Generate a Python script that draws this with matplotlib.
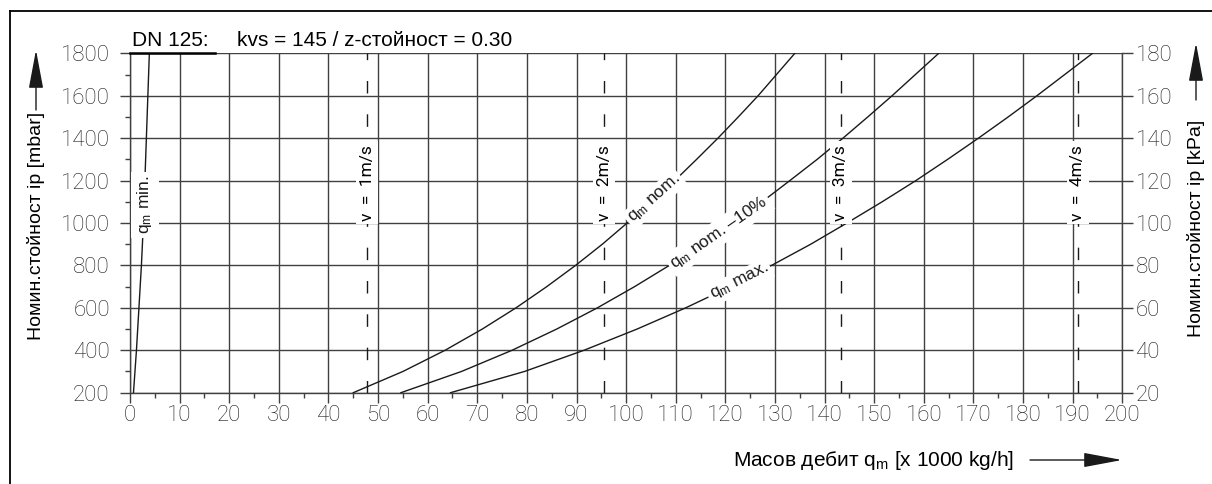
import numpy as np
import matplotlib
matplotlib.use("Agg")
import matplotlib.pyplot as plt
from matplotlib.lines import Line2D
from matplotlib.patches import FancyArrowPatch

plt.rcParams["mathtext.fontset"] = "custom"
plt.rcParams["mathtext.rm"] = "Liberation Sans"
plt.rcParams["mathtext.it"] = "Liberation Sans:italic"

# pressure drop levels (mbar) at which each curve is tabulated
dp_mbar = [200, 300, 400, 500, 600, 700, 800, 900, 1000,
           1100, 1200, 1300, 1400, 1500, 1600, 1700, 1800]

# mass flow (x 1000 kg/h) per curve at the levels above
q_min = [0.7, 1.0, 1.3, 1.55, 1.8, 2.05, 2.3, 2.5, 2.7,
         2.85, 3.0, 3.15, 3.3, 3.45, 3.6, 3.75, 3.9]
q_nom = [45.0, 55.0, 63.5, 71.0, 77.8, 84.0, 89.8, 95.2, 100.2,
         105.0, 109.8, 114.2, 118.5, 122.6, 126.6, 130.3, 134.0]
q_nom_10 = [54.6, 66.8, 77.0, 86.0, 94.2, 101.7, 108.7, 115.3, 121.5,
            127.4, 133.0, 138.5, 143.7, 148.7, 153.6, 158.3, 163.0]
q_max = [64.6, 79.5, 91.5, 102.2, 112.0, 121.0, 129.3, 137.2, 144.5,
         151.6, 158.4, 164.8, 171.0, 177.0, 182.8, 188.4, 194.0]

# flows at which the medium velocity reaches 1..4 m/s
v_flow = [47.8, 95.6, 143.3, 191.0]
v_labels = ["v  =  1m/s", "v  =  2m/s", "v  =  3m/s", "v  =  4m/s"]

x_ticks = np.arange(0, 201, 10)
x_minor = np.arange(5, 200, 10)
y_ticks_mbar = np.arange(200, 1801, 200)
y_minor_mbar = np.arange(300, 1800, 200)
y_ticks_kpa = np.arange(20, 181, 20)

GRID = "#404040"
INK = "#1a1a1a"
W, H = 1212, 484


def fx(px):
    return px / W


def fy(py):
    return (H - py) / H


fig = plt.figure(figsize=(W / 100, H / 100), dpi=100)
ax = fig.add_axes([fx(130), fy(392.7), (1122.3 - 130) / W, (392.7 - 53.3) / H])
ax.set_xlim(0, 200)
ax.set_ylim(200, 1800)
ax.set_xticks(x_ticks)
ax.set_xticks(x_minor, minor=True)
ax.set_yticks(y_ticks_mbar)
ax.set_yticks(y_minor_mbar, minor=True)
ax.grid(True, which="major", color=GRID, lw=1.0)
ax.set_axisbelow(True)
for side in ("top", "right"):
    ax.spines[side].set_visible(False)
for side in ("left", "bottom"):
    ax.spines[side].set_color(GRID)
    ax.spines[side].set_linewidth(1.0)
ax.tick_params(which="major", direction="out", length=7.5, width=1.0,
               color=GRID, labelsize=16, labelcolor=INK)
ax.tick_params(which="minor", direction="out", length=3.8, width=1.0,
               color=GRID)
ax.tick_params(axis="x", which="major", pad=1.5)
ax.tick_params(axis="y", which="major", pad=7)

ax2 = ax.twinx()
ax2.set_ylim(20, 180)
ax2.set_yticks(y_ticks_kpa)
for side in ("top", "left", "bottom"):
    ax2.spines[side].set_visible(False)
ax2.spines["right"].set_color(GRID)
ax2.spines["right"].set_linewidth(1.0)
ax2.tick_params(axis="y", direction="out", length=8, width=1.0, color=GRID,
                labelsize=16, labelcolor=INK, pad=1.5)

for lab in ax.get_xticklabels() + ax.get_yticklabels() + ax2.get_yticklabels():
    lab.set_fontfamily("Roboto")
    lab.set_fontweight("light")

# flow curves
for flows in (q_min, q_nom, q_nom_10, q_max):
    ax.plot(flows, dp_mbar, color=INK, lw=1.0, zorder=3)

# velocity lines
for v, lab in zip(v_flow, v_labels):
    ax.plot([v, v], [200, 1800], color=INK, lw=1.0, dashes=(9, 15), zorder=3)
    ax.text(v, 1190, lab, rotation=90, ha="center", va="center",
            family="Roboto", size=12.5, color="black",
            zorder=5, bbox=dict(fc="white", ec="none", pad=2.5))


def curve_label(text, flows, p, size=12.5):
    x = np.interp(p, dp_mbar, flows)
    a, b = ax.transData.transform([(np.interp(p - 60, dp_mbar, flows), p - 60),
                                   (np.interp(p + 60, dp_mbar, flows), p + 60)])
    ang = np.degrees(np.arctan2(b[1] - a[1], b[0] - a[0]))
    ax.text(x, p, text, rotation=ang, rotation_mode="anchor", ha="center",
            va="center", family="Liberation Sans", size=size, color=INK,
            zorder=5, bbox=dict(fc="white", ec="none", pad=2.0))


ax.text(3.0, 1085, "q$_\\mathrm{m}$ min.", rotation=90, ha="center", va="center",
        family="Liberation Sans", size=12.5, color=INK, zorder=5,
        bbox=dict(fc="white", ec="none", pad=3.0))
curve_label("q$_\\mathrm{m}$ nom.", q_nom, 1114)
curve_label("q$_\\mathrm{m}$ nom. –10%", q_nom_10, 955)
curve_label("q$_\\mathrm{m}$ max.", q_max, 722)

# dark stroke under the nominal size
ax.plot([0, 17.1], [1800, 1800], color="black", lw=1.8, clip_on=False, zorder=4)

# heading
fig.text(fx(132), fy(46), "DN 125:", family="Liberation Sans", size=15,
         va="baseline", color="black")
fig.text(fx(237), fy(46), "kvs = 145 / z-стойност = 0.30",
         family="Liberation Sans", size=15, va="baseline", color="black")

# axis titles with arrows
fig.text(fx(36), fy(226), "Номин.стойност ip [mbar]", rotation=90,
         ha="center", va="center", family="Liberation Sans", size=14,
         color="black")
fig.text(fx(1196), fy(228), "Номин.стойност ip [kPa]", rotation=90,
         ha="center", va="center", family="Liberation Sans", size=14,
         color="black")
fig.text(fx(733), fy(461), "Масов дебит q$_\\mathrm{m}$ [x 1000 kg/h]",
         ha="left", va="center", family="Liberation Sans", size=15,
         color="black")

arrow_style = "-|>,head_length=2.4,head_width=0.45"
for start, end in [((fx(36), fy(110)), (fx(36), fy(50))),
                   ((fx(1196), fy(100)), (fx(1196), fy(43))),
                   ((fx(1030), fy(460)), (fx(1122), fy(460)))]:
    fig.add_artist(FancyArrowPatch(start, end, transform=fig.transFigure,
                                   arrowstyle=arrow_style, mutation_scale=10,
                                   lw=1.0, color=INK, shrinkA=0, shrinkB=0))

# sheet frame
fig.add_artist(Line2D([fx(10), fx(10)], [0, fy(11)], transform=fig.transFigure,
                      color="black", lw=1.3))
fig.add_artist(Line2D([fx(10), 1], [fy(11), fy(11)], transform=fig.transFigure,
                      color="black", lw=1.3))

fig.savefig("out.png", dpi=100)
